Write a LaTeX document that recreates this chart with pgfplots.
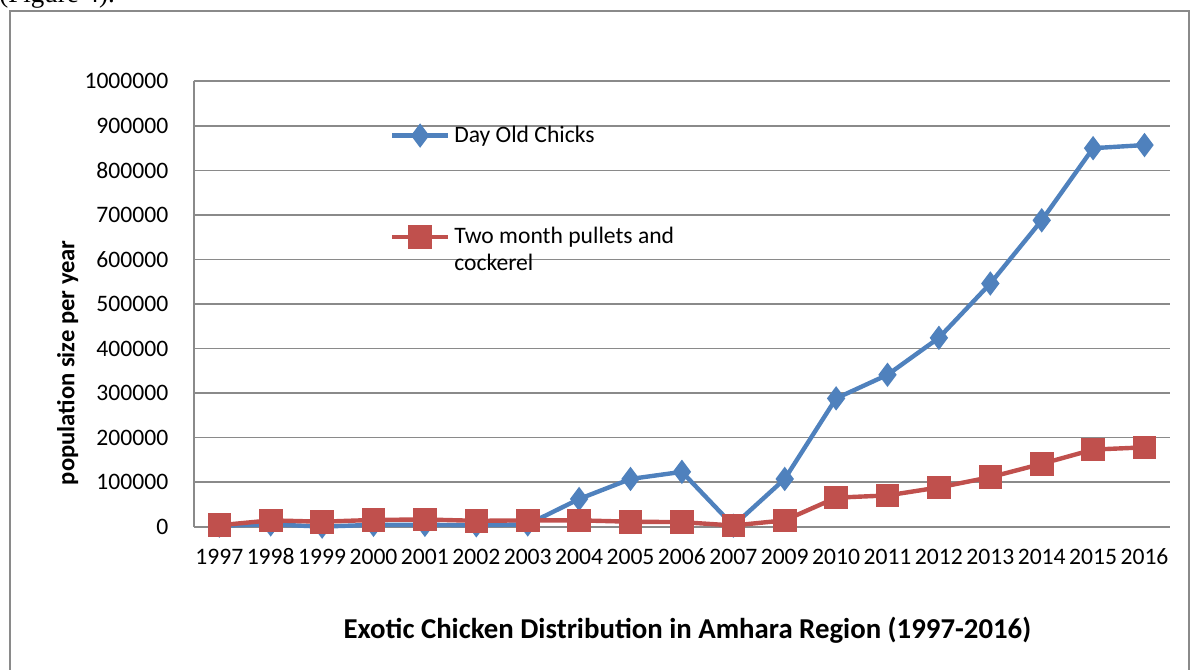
\documentclass[border=0pt]{standalone}
\usepackage{fontspec}
\setmainfont{Carlito}
\newfontfamily\timesfont{Liberation Serif}
\usepackage{pgfplots}
\pgfplotsset{compat=1.18}
\definecolor{cblue}{HTML}{4F81BD}
\definecolor{cred}{HTML}{C0504D}
\definecolor{gridgray}{HTML}{8A8A8A}

\pgfplotstableread{
x year doc tmp
0  1997 2000   3000
1  1998 5000   14000
2  1999 0      11000
3  2000 4000   15000
4  2001 4000   16000
5  2002 3000   13000
6  2003 5000   14000
7  2004 62000  14000
8  2005 107000 11000
9  2006 123000 10000
10 2007 2000   2500
11 2009 107000 14000
12 2010 288000 65000
13 2011 341000 70000
14 2012 424000 88000
15 2013 546000 111000
16 2014 688000 141000
17 2015 850000 173000
18 2016 857000 178000
}\datatable

\begin{document}
\begin{tikzpicture}
\useasboundingbox (0,0) rectangle (596pt,334.5pt);
\begin{scope}
\clip (0,0) rectangle (596pt,334.5pt);
\draw[gridgray, line width=0.8pt] (5pt,-5pt) rectangle (594.6pt,329pt);
\node[anchor=base west, font=\timesfont\fontsize{13.5}{15}\selectfont, inner sep=0] at (-0.5pt,333pt) {(Figure 4).};
\end{scope}
\begin{axis}[
  at={(96.8pt,71.2pt)}, anchor=south west,
  scale only axis, width=488.3pt, height=222.6pt,
  xmin=-0.5, xmax=18.5, ymin=0, ymax=1000000,
  axis x line=bottom, axis y line=left,
  axis line style={gridgray, line width=0.9pt, -},
  xtick=data,
  xticklabels={1997,1998,1999,2000,2001,2002,2003,2004,2005,2006,2007,2009,2010,2011,2012,2013,2014,2015,2016},
  ytick={0,100000,...,1000000},
  scaled y ticks=false,
  yticklabel style={/pgf/number format/fixed, /pgf/number format/1000 sep={}, /pgf/number format/assume math mode=true, xshift=-7pt},
  xticklabel style={text height=8pt, text depth=1pt, yshift=-5.5pt},
  tick style={draw=none},
  ymajorgrids, grid style={gridgray, line width=0.9pt},
  tick label style={font=\fontsize{11.8}{13}\selectfont},
  xlabel={\textbf{Exotic Chicken Distribution in Amhara Region (1997-2016)}},
  xlabel style={font=\fontsize{14.4}{16}\selectfont, at={(axis description cs:0.5056,-0.233)}, anchor=center},
  ylabel={\textbf{population size per year}},
  ylabel style={font=\fontsize{12.3}{14}\selectfont, at={(axis description cs:-0.129,0.368)}, anchor=center, rotate=0},
  legend style={at={(axis description cs:0.2006,0.91)}, anchor=north west, draw=none, fill=none,
    font=\fontsize{11.8}{13.5}\selectfont, row sep=37pt, inner sep=0pt},
  legend cell align=left,
  legend image code/.code={\draw[mark repeat=2,mark phase=2] plot coordinates {(0pt,0pt) (14pt,0pt) (28pt,0pt)};},
  clip=false,
]
\addplot[cblue, line width=2.2pt, mark=diamond*, mark size=4.3pt, mark options={solid}] table[x=x,y=doc] {\datatable};
\addlegendentry{Day Old Chicks}
\addplot[cred, line width=2.2pt, mark=square*, mark size=4.8pt, mark options={solid}] table[x=x,y=tmp] {\datatable};
\addlegendentry{\vtop{\hbox{Two month pullets and}\hbox{cockerel}}}
\end{axis}
\end{tikzpicture}
\end{document}
